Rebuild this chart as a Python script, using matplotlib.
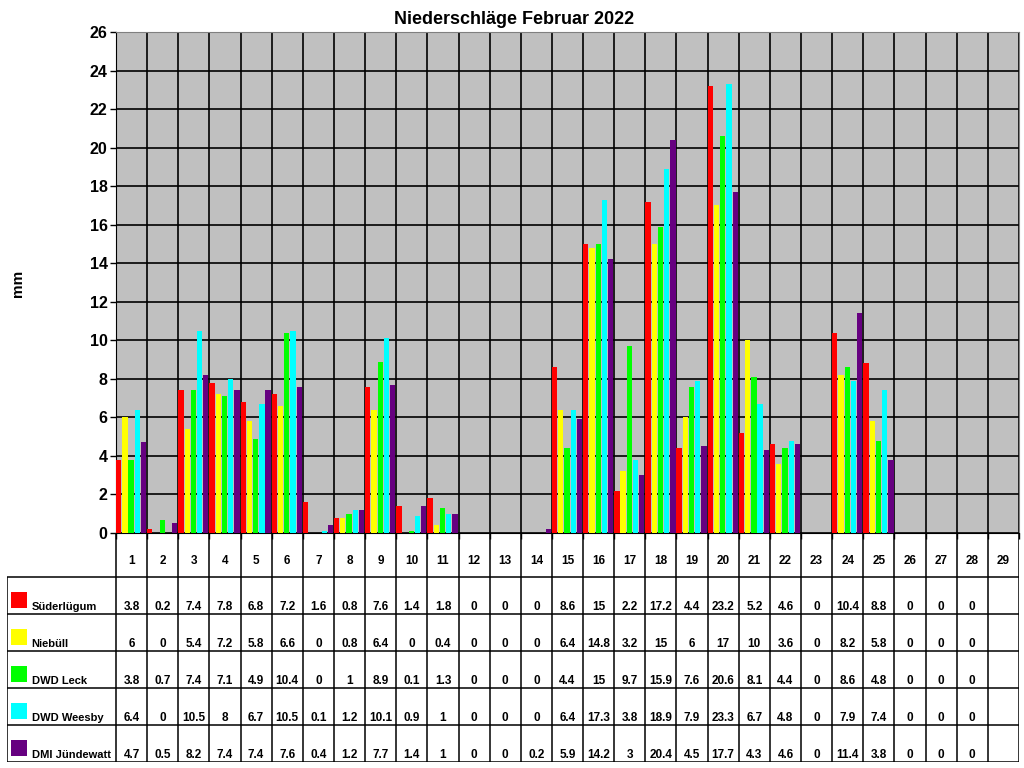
import matplotlib
matplotlib.use("Agg")
import matplotlib.pyplot as plt
import numpy as np
from matplotlib.patches import Rectangle

plt.rcParams.update({
    'font.family': ['Liberation Sans', 'DejaVu Sans'],
    'font.weight': 'bold',
})

days = list(range(1, 30))
stations = ["Süderlügum", "Niebüll", "DWD Leck", "DWD Weesby", "DMI Jündewatt"]
colors = ["#FF0000", "#FFFF00", "#00FF00", "#00FFFF", "#660080"]

suederluegum = [3.8, 0.2, 7.4, 7.8, 6.8, 7.2, 1.6, 0.8, 7.6, 1.4, 1.8, 0, 0, 0,
                8.6, 15, 2.2, 17.2, 4.4, 23.2, 5.2, 4.6, 0, 10.4, 8.8, 0, 0, 0, None]
niebuell = [6, 0, 5.4, 7.2, 5.8, 6.6, 0, 0.8, 6.4, 0, 0.4, 0, 0, 0,
            6.4, 14.8, 3.2, 15, 6, 17, 10, 3.6, 0, 8.2, 5.8, 0, 0, 0, None]
leck = [3.8, 0.7, 7.4, 7.1, 4.9, 10.4, 0, 1, 8.9, 0.1, 1.3, 0, 0, 0,
        4.4, 15, 9.7, 15.9, 7.6, 20.6, 8.1, 4.4, 0, 8.6, 4.8, 0, 0, 0, None]
weesby = [6.4, 0, 10.5, 8, 6.7, 10.5, 0.1, 1.2, 10.1, 0.9, 1, 0, 0, 0,
          6.4, 17.3, 3.8, 18.9, 7.9, 23.3, 6.7, 4.8, 0, 7.9, 7.4, 0, 0, 0, None]
juendewatt = [4.7, 0.5, 8.2, 7.4, 7.4, 7.6, 0.4, 1.2, 7.7, 1.4, 1, 0, 0, 0.2,
              5.9, 14.2, 3, 20.4, 4.5, 17.7, 4.3, 4.6, 0, 11.4, 3.8, 0, 0, 0, None]
series = [suederluegum, niebuell, leck, weesby, juendewatt]

W, H = 1024, 768
fig = plt.figure(figsize=(W / 100, H / 100), dpi=100)

# chart area
ax = fig.add_axes([116 / W, (H - 533) / H, 903 / W, 501 / H])
ax.set_facecolor("#C0C0C0")
x = np.array(days, dtype=float)
step, bw = 0.2, 0.17
for i, (vals, c) in enumerate(zip(series, colors)):
    v = np.array([np.nan if a is None else a for a in vals], dtype=float)
    ax.bar(x - 0.5 + step * i, v, width=bw, align='edge', color=c, zorder=3)

ax.set_xlim(0.5, 29.5)
ax.set_ylim(0, 26)
ax.set_yticks(range(0, 27, 2))
ax.set_xticks(np.arange(0.5, 30, 1))
ax.set_xticklabels([])
ax.grid(True, color="black", linewidth=1.2, zorder=1)
ax.set_axisbelow(True)
ax.tick_params(axis='y', length=4, width=1, labelsize=11.5, pad=2)
ax.tick_params(axis='x', length=4, width=1)
for s in ["top", "right"]:
    ax.spines[s].set_color("#808080")
for s in ["left", "bottom"]:
    ax.spines[s].set_color("black")
for lab in ax.get_yticklabels():
    lab.set_fontweight('bold')

fig.text(514 / W, 1 - 20 / H, "Niederschläge Februar 2022", ha='center', va='center',
         fontsize=13, fontweight='bold')
fig.text(18 / W, 1 - 283 / H, "mm", ha='center', va='center', rotation=90,
         fontsize=11, fontweight='bold')

# data table
tx = fig.add_axes([7 / W, (H - 762) / H, 1012 / W, 229 / H])
tx.set_xlim(-3.0, 29.5)
tx.set_ylim(6.2, 0)
tx.axis('off')
lw = 1.1
tx.vlines(np.arange(0.5, 30, 1), 0, 6.2, color="black", lw=lw)
tx.vlines(-3.0, 1.2, 6.2, color="black", lw=lw)
tx.hlines([1.2 + i for i in range(6)], -3.0, 29.5, color="black", lw=lw)

for d in days:
    tx.text(d, 0.76, str(d), ha='center', va='center', fontsize=8.5, fontweight='bold')

for r, (name, vals, c) in enumerate(zip(stations, series, colors)):
    y0 = 1.2 + r
    tx.add_patch(Rectangle((-2.87, y0 + 0.4), 0.51, 0.43, facecolor=c, edgecolor='none'))
    tx.text(-2.21, y0 + 0.8, name, ha='left', va='center', fontsize=8, fontweight='bold')
    for d, v in zip(days, vals):
        if v is None:
            continue
        tx.text(d, y0 + 0.8, "{:g}".format(v), ha='center', va='center',
                fontsize=8.5, fontweight='bold')

fig.savefig("out.png", dpi=100)
